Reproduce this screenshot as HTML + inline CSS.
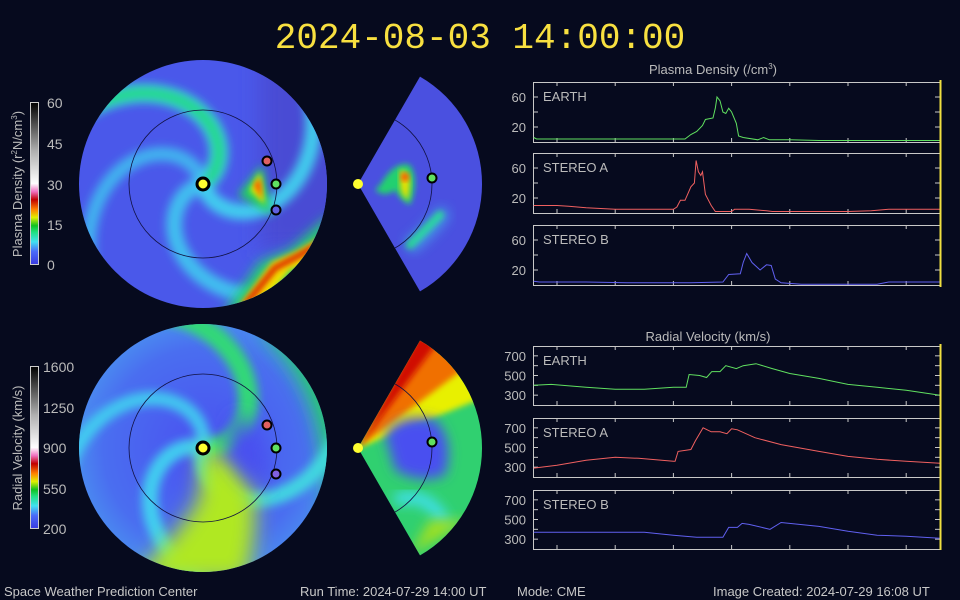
<!DOCTYPE html>
<html><head><meta charset="utf-8">
<style>
html,body{margin:0;padding:0;background:#060a1e;}
svg{display:block;}
text{font-family:"Liberation Sans",sans-serif;}
</style></head>
<body>
<svg id="s" width="960" height="600" viewBox="0 0 960 600" xmlns="http://www.w3.org/2000/svg">
<defs>
<filter id="b3" x="-30%" y="-30%" width="160%" height="160%"><feGaussianBlur stdDeviation="3"/></filter>
<filter id="b5" x="-30%" y="-30%" width="160%" height="160%"><feGaussianBlur stdDeviation="4.5"/></filter>
<filter id="b6" x="-30%" y="-30%" width="160%" height="160%"><feGaussianBlur stdDeviation="6"/></filter>
<filter id="b10" x="-30%" y="-30%" width="160%" height="160%"><feGaussianBlur stdDeviation="10"/></filter>
<clipPath id="c1"><circle cx="203" cy="184" r="124"/></clipPath>
<clipPath id="c2"><circle cx="203" cy="448" r="124"/></clipPath>
<clipPath id="w1"><path d="M358,184 L420,76.6 A124,124 0 0 1 420,291.4 Z"/></clipPath>
<clipPath id="w2"><path d="M358,448 L420,340.6 A124,124 0 0 1 420,555.4 Z"/></clipPath>
<linearGradient id="cbd" x1="0" y1="1" x2="0" y2="0">
<stop offset="0" stop-color="#3a3ae0"/><stop offset="0.08" stop-color="#4a6af8"/><stop offset="0.14" stop-color="#40e0f0"/>
<stop offset="0.2" stop-color="#20e080"/><stop offset="0.24" stop-color="#10c020"/><stop offset="0.29" stop-color="#e0f000"/>
<stop offset="0.34" stop-color="#ff8000"/><stop offset="0.4" stop-color="#c00000"/><stop offset="0.45" stop-color="#f070c0"/>
<stop offset="0.5" stop-color="#ffffff"/><stop offset="0.7" stop-color="#b0b0b0"/><stop offset="1" stop-color="#000000"/>
</linearGradient>
<radialGradient id="vbg" cx="0.5" cy="0.5" r="0.5">
<stop offset="0" stop-color="#4a50f0"/><stop offset="0.75" stop-color="#4a6ef0"/><stop offset="1" stop-color="#4a90f0"/>
</radialGradient>
</defs>

<text x="480" y="48" text-anchor="middle" fill="#f8e040" font-size="36" style="font-family:'Liberation Mono',monospace">2024-08-03 14:00:00</text>

<rect x="30.5" y="102.5" width="8" height="162" fill="url(#cbd)" stroke="#ccc" stroke-width="1"/>
<g fill="#bbb" font-size="14">
<text x="47" y="108">60</text><text x="47" y="149">45</text><text x="47" y="190">30</text><text x="47" y="230">15</text><text x="47" y="270">0</text>
</g>
<text transform="translate(22,184) rotate(-90)" text-anchor="middle" fill="#bbb" font-size="13">Plasma Density (r<tspan font-size="8" dy="-5">2</tspan><tspan dy="5">N/cm</tspan><tspan font-size="8" dy="-5">3</tspan><tspan dy="5">)</tspan></text>

<rect x="30.5" y="366.5" width="8" height="162" fill="url(#cbd)" stroke="#ccc" stroke-width="1"/>
<g fill="#bbb" font-size="14">
<text x="43" y="372">1600</text><text x="43" y="413">1250</text><text x="43" y="453">900</text><text x="43" y="494">550</text><text x="43" y="534">200</text>
</g>
<text transform="translate(22,448) rotate(-90)" text-anchor="middle" fill="#bbb" font-size="13">Radial Velocity (km/s)</text>

<!-- density disk -->
<g clip-path="url(#c1)">
<rect x="70" y="50" width="270" height="270" fill="#4a58ea"/>
<rect x="260" y="50" width="90" height="200" fill="#4a4cd4" filter="url(#b10)"/>
<g id="dsp" filter="url(#b5)"></g>
<path d="M238,195 L262,165 L272,215 Z" fill="#20d060" filter="url(#b5)"/>
<path d="M250,190 L260,172 L265,205 Z" fill="#e0f000" filter="url(#b3)"/>
<path d="M254,185 L260,178 L262,200 Z" fill="#ff4000" filter="url(#b3)"/>
<path d="M220,320 L260,262 L290,250 L330,215 L330,300 Z" fill="#20d070" filter="url(#b6)"/>
<path d="M235,312 L272,262 L295,252 L330,232 L330,260 L290,270 L255,315 Z" fill="#f0e000" filter="url(#b3)"/>
<path d="M245,305 L275,268 L300,255 L325,240" stroke="#e02000" stroke-width="6" fill="none" filter="url(#b3)"/>
</g>
<circle cx="203" cy="184" r="74" fill="none" stroke="#101040" stroke-width="0.8"/>

<!-- density wedge -->
<g clip-path="url(#w1)">
<rect x="350" y="70" width="140" height="230" fill="#4a50e0"/>
<path d="M380,185 Q395,160 410,165 Q420,180 410,205 Q400,200 395,190 Q385,198 375,190 Z" fill="#20d070" filter="url(#b3)"/>
<path d="M400,170 Q410,170 410,185 L408,200 Q400,195 400,182 Z" fill="#e8e000" filter="url(#b3)"/>
<circle cx="405" cy="177" r="4" fill="#ff4000" filter="url(#b3)"/>
<path d="M410,245 Q430,225 440,215" stroke="#20d070" stroke-width="8" fill="none" stroke-linecap="round" filter="url(#b3)"/>
<path d="M408,248 Q432,230 445,210" stroke="#40e0f0" stroke-width="14" fill="none" opacity="0.5" filter="url(#b6)"/>
</g>
<path d="M358,184 m0,-74 a74,74 0 0 1 0,148" fill="none" stroke="#101040" stroke-width="0.8" clip-path="url(#w1)"/>

<!-- velocity disk -->
<g clip-path="url(#c2)">
<rect x="70" y="314" width="270" height="270" fill="url(#vbg)"/>
<path d="M260,330 Q340,400 325,540 L345,540 L345,330 Z" fill="#20d060" filter="url(#b10)"/>
<g id="vsp" filter="url(#b5)"></g>
<path d="M203,448 Q245,455 255,500 Q258,540 245,580 L130,580 Q175,540 198,500 Z" fill="#b0e820" filter="url(#b10)"/>
<path d="M235,415 Q270,430 268,485 Q245,485 228,450 Z" fill="#4a50f0" filter="url(#b10)"/>
</g>
<circle cx="203" cy="448" r="74" fill="none" stroke="#101040" stroke-width="0.8"/>

<!-- velocity wedge -->
<g clip-path="url(#w2)">
<rect x="350" y="334" width="140" height="230" fill="#30d070"/>
<path d="M358,448 L420,340 L470,360 L490,395 Z" fill="#e8f000" filter="url(#b3)"/>
<path d="M358,448 L420,338 L450,348 L465,368 Z" fill="#f07000" filter="url(#b3)"/>
<path d="M358,448 L418,336 L438,342 Z" fill="#d01000" filter="url(#b3)"/>
<path d="M385,435 Q400,412 435,420 Q455,440 445,475 Q420,485 395,470 Z" fill="#4a50f0" filter="url(#b6)"/>
<path d="M395,500 Q430,490 445,525" stroke="#40e0f0" stroke-width="12" fill="none" filter="url(#b6)"/>
<path d="M410,555 L430,520 L470,520 Z" fill="#a0e020" filter="url(#b6)"/>
</g>
<path d="M358,448 m0,-74 a74,74 0 0 1 0,148" fill="none" stroke="#101040" stroke-width="0.8" clip-path="url(#w2)"/>

<g stroke="#000" stroke-width="2">
<circle cx="267" cy="161" r="4.5" fill="#e06060"/><circle cx="276" cy="184" r="4.5" fill="#60e060"/><circle cx="276" cy="210" r="4.5" fill="#6060e0"/>
<circle cx="267" cy="425" r="4.5" fill="#e06060"/><circle cx="276" cy="448" r="4.5" fill="#60e060"/><circle cx="276" cy="474" r="4.5" fill="#8060e0"/>
<circle cx="432" cy="178" r="4.5" fill="#60e060"/><circle cx="432" cy="442" r="4.5" fill="#60e060"/>
<circle cx="203" cy="184" r="6" fill="#ffff30" stroke-width="3"/><circle cx="203" cy="448" r="6" fill="#ffff30" stroke-width="3"/>
</g>
<circle cx="358" cy="184" r="5" fill="#ffff30"/><circle cx="358" cy="448" r="5" fill="#ffff30"/>

<g id="charts"></g>

<text x="713" y="74" text-anchor="middle" fill="#bbb" font-size="13">Plasma Density (/cm<tspan font-size="8" dy="-5">3</tspan><tspan dy="5">)</tspan></text>
<text x="708" y="341" text-anchor="middle" fill="#bbb" font-size="13">Radial Velocity (km/s)</text>

<g fill="#c8c8c8" font-size="13">
<text x="4" y="596">Space Weather Prediction Center</text>
<text x="300" y="596">Run Time: 2024-07-29 14:00 UT</text>
<text x="517" y="596">Mode: CME</text>
<text x="713" y="596">Image Created: 2024-07-29 16:08 UT</text>
</g>
</svg>
<script>
var NS="http://www.w3.org/2000/svg";
function el(p,t,a,txt){var e=document.createElementNS(NS,t);for(var k in a)e.setAttribute(k,a[k]);if(txt!==undefined)e.textContent=txt;p.appendChild(e);return e;}
function spiral(g,cx,cy,th0,col,w,op,k){var d="";for(var r=6;r<190;r+=3){var th=th0-r/k;var x=cx+r*Math.cos(th),y=cy+r*Math.sin(th);d+=(d?"L":"M")+x.toFixed(1)+","+y.toFixed(1);}
el(g,"path",{d:d,stroke:col,"stroke-width":w,fill:"none",opacity:op,"stroke-linecap":"round"});}
var dg=document.getElementById("dsp");
[[-0.6,"#30e8d0",18,1],[1.3,"#40d8f0",16,0.9],[2.9,"#40d0f0",16,0.85],[4.5,"#40c8f0",14,0.8]].forEach(function(a){spiral(dg,203,184,a[0],a[1],a[2],a[3],70);});
spiral(dg,203,184,-0.6,"#20d070",8,1,70);
var vg=document.getElementById("vsp");
[[0.1,"#30d878",20,1],[1.8,"#40e0e0",16,0.9],[3.4,"#40e0f0",16,0.85],[4.9,"#40d8f0",14,0.85]].forEach(function(a){spiral(vg,203,448,a[0],a[1],a[2],a[3],72);});
var cg=document.getElementById("charts");
var X0=533,X1=940;function X(t){return 557+t*58.2;}
var days=["28","29","30","31","01","02","03"];
function panel(top,h,vmin,vmax,ticks,labels,name,col,data,minor,last){
 var Y=function(v){return top+h-(v-vmin)/(vmax-vmin)*h;};
 el(cg,"rect",{x:X0+0.5,y:top+0.5,width:X1-X0,height:h,fill:"none",stroke:"#c8c8c8","stroke-width":1});
 for(var i=0;i<7;i++){var x=X(i);el(cg,"line",{x1:x,y1:top,x2:x,y2:top+4,stroke:"#c8c8c8"});el(cg,"line",{x1:x,y1:top+h,x2:x,y2:top+h-4,stroke:"#c8c8c8"});
  if(last)el(cg,"text",{x:x,y:top+h+17,"text-anchor":"middle",fill:"#bbb","font-size":13},days[i]);}
 minor.forEach(function(v){var y=Y(v);el(cg,"line",{x1:X0,y1:y,x2:X0+5,y2:y,stroke:"#c8c8c8"});el(cg,"line",{x1:X1,y1:y,x2:X1-5,y2:y,stroke:"#c8c8c8"});});
 labels.forEach(function(v){el(cg,"text",{x:X0-7,y:Y(v)+5,"text-anchor":"end",fill:"#bbb","font-size":13},String(v));});
 el(cg,"text",{x:543,y:top+19,fill:"#bbb","font-size":13},name);
 var d="";data.forEach(function(p){var x=Math.max(X0,Math.min(X1,X(p[0])));d+=(d?"L":"M")+x.toFixed(1)+","+Y(p[1]).toFixed(1);});
 el(cg,"path",{d:d,stroke:col,"stroke-width":1,fill:"none"});
}
var dm=[20,40,60],dl=[20,60];
panel(82,60,0,80,null,dl,"EARTH","#60e060",[[-0.4,6],[-0.35,4],[2.2,4],[2.3,10],[2.4,14],[2.5,22],[2.55,30],[2.68,32],[2.72,45],[2.75,60],[2.8,55],[2.85,40],[2.9,38],[2.95,45],[3.0,40],[3.08,25],[3.12,8],[3.2,6],[3.45,3],[3.55,6],[3.65,3],[4.0,3],[4.5,2],[6.6,2]],dm);
panel(153,60,0,80,null,dl,"STEREO A","#f06060",[[-0.4,10],[0,10],[0.2,9],[0.5,7],[1.0,5],[2.0,5],[2.06,8],[2.12,17],[2.2,17],[2.3,35],[2.36,40],[2.39,70],[2.43,55],[2.47,50],[2.5,55],[2.55,25],[2.65,10],[2.72,2],[3.0,2],[3.05,5],[3.3,5],[3.6,3],[3.7,2],[5.0,2],[5.4,3],[5.7,5],[6.6,5]],dm);
panel(225,60,0,80,null,dl,"STEREO B","#6060f0",[[-0.4,5],[-0.3,4],[0.5,4],[1.2,3],[2.3,3],[2.85,4],[2.95,14],[3.15,15],[3.2,30],[3.26,42],[3.35,30],[3.49,20],[3.6,27],[3.68,26],[3.75,8],[3.85,3],[4.2,1],[5.0,1],[5.5,1],[5.7,4],[6.6,4]],dm);
var vm=[300,400,500,600,700],vl=[300,500,700];
panel(346,59,200,800,null,vl,"EARTH","#60e060",[[-0.4,400],[-0.1,410],[0.5,380],[1.0,360],[1.5,360],[2.0,380],[2.22,380],[2.27,510],[2.45,500],[2.57,480],[2.66,540],[2.8,540],[2.9,600],[3.08,570],[3.2,600],[3.42,620],[3.7,570],[4.0,520],[4.5,470],[5.0,410],[5.5,380],[6.0,350],[6.6,300]],vm);
panel(418,59,200,800,null,vl,"STEREO A","#f06060",[[-0.4,290],[0,320],[0.5,370],[1.0,400],[1.4,390],[2.0,360],[2.03,360],[2.08,460],[2.3,480],[2.38,570],[2.51,700],[2.65,660],[2.8,660],[2.92,640],[3.0,690],[3.1,680],[3.4,600],[3.85,530],[4.5,460],[5.0,410],[5.5,380],[6.0,360],[6.6,340]],vm);
panel(490,59,200,800,null,vl,"STEREO B","#6060f0",[[-0.4,370],[1.5,370],[2.0,340],[2.4,320],[2.85,320],[2.95,420],[3.1,420],[3.18,460],[3.3,450],[3.66,400],[3.85,470],[4.5,430],[5.0,380],[5.5,340],[6.0,330],[6.6,310]],vm);
el(cg,"line",{x1:940.5,y1:80,x2:940.5,y2:287,stroke:"#f0e040","stroke-width":2});
el(cg,"line",{x1:940.5,y1:344,x2:940.5,y2:550,stroke:"#f0e040","stroke-width":2});
</script>
</body></html>
